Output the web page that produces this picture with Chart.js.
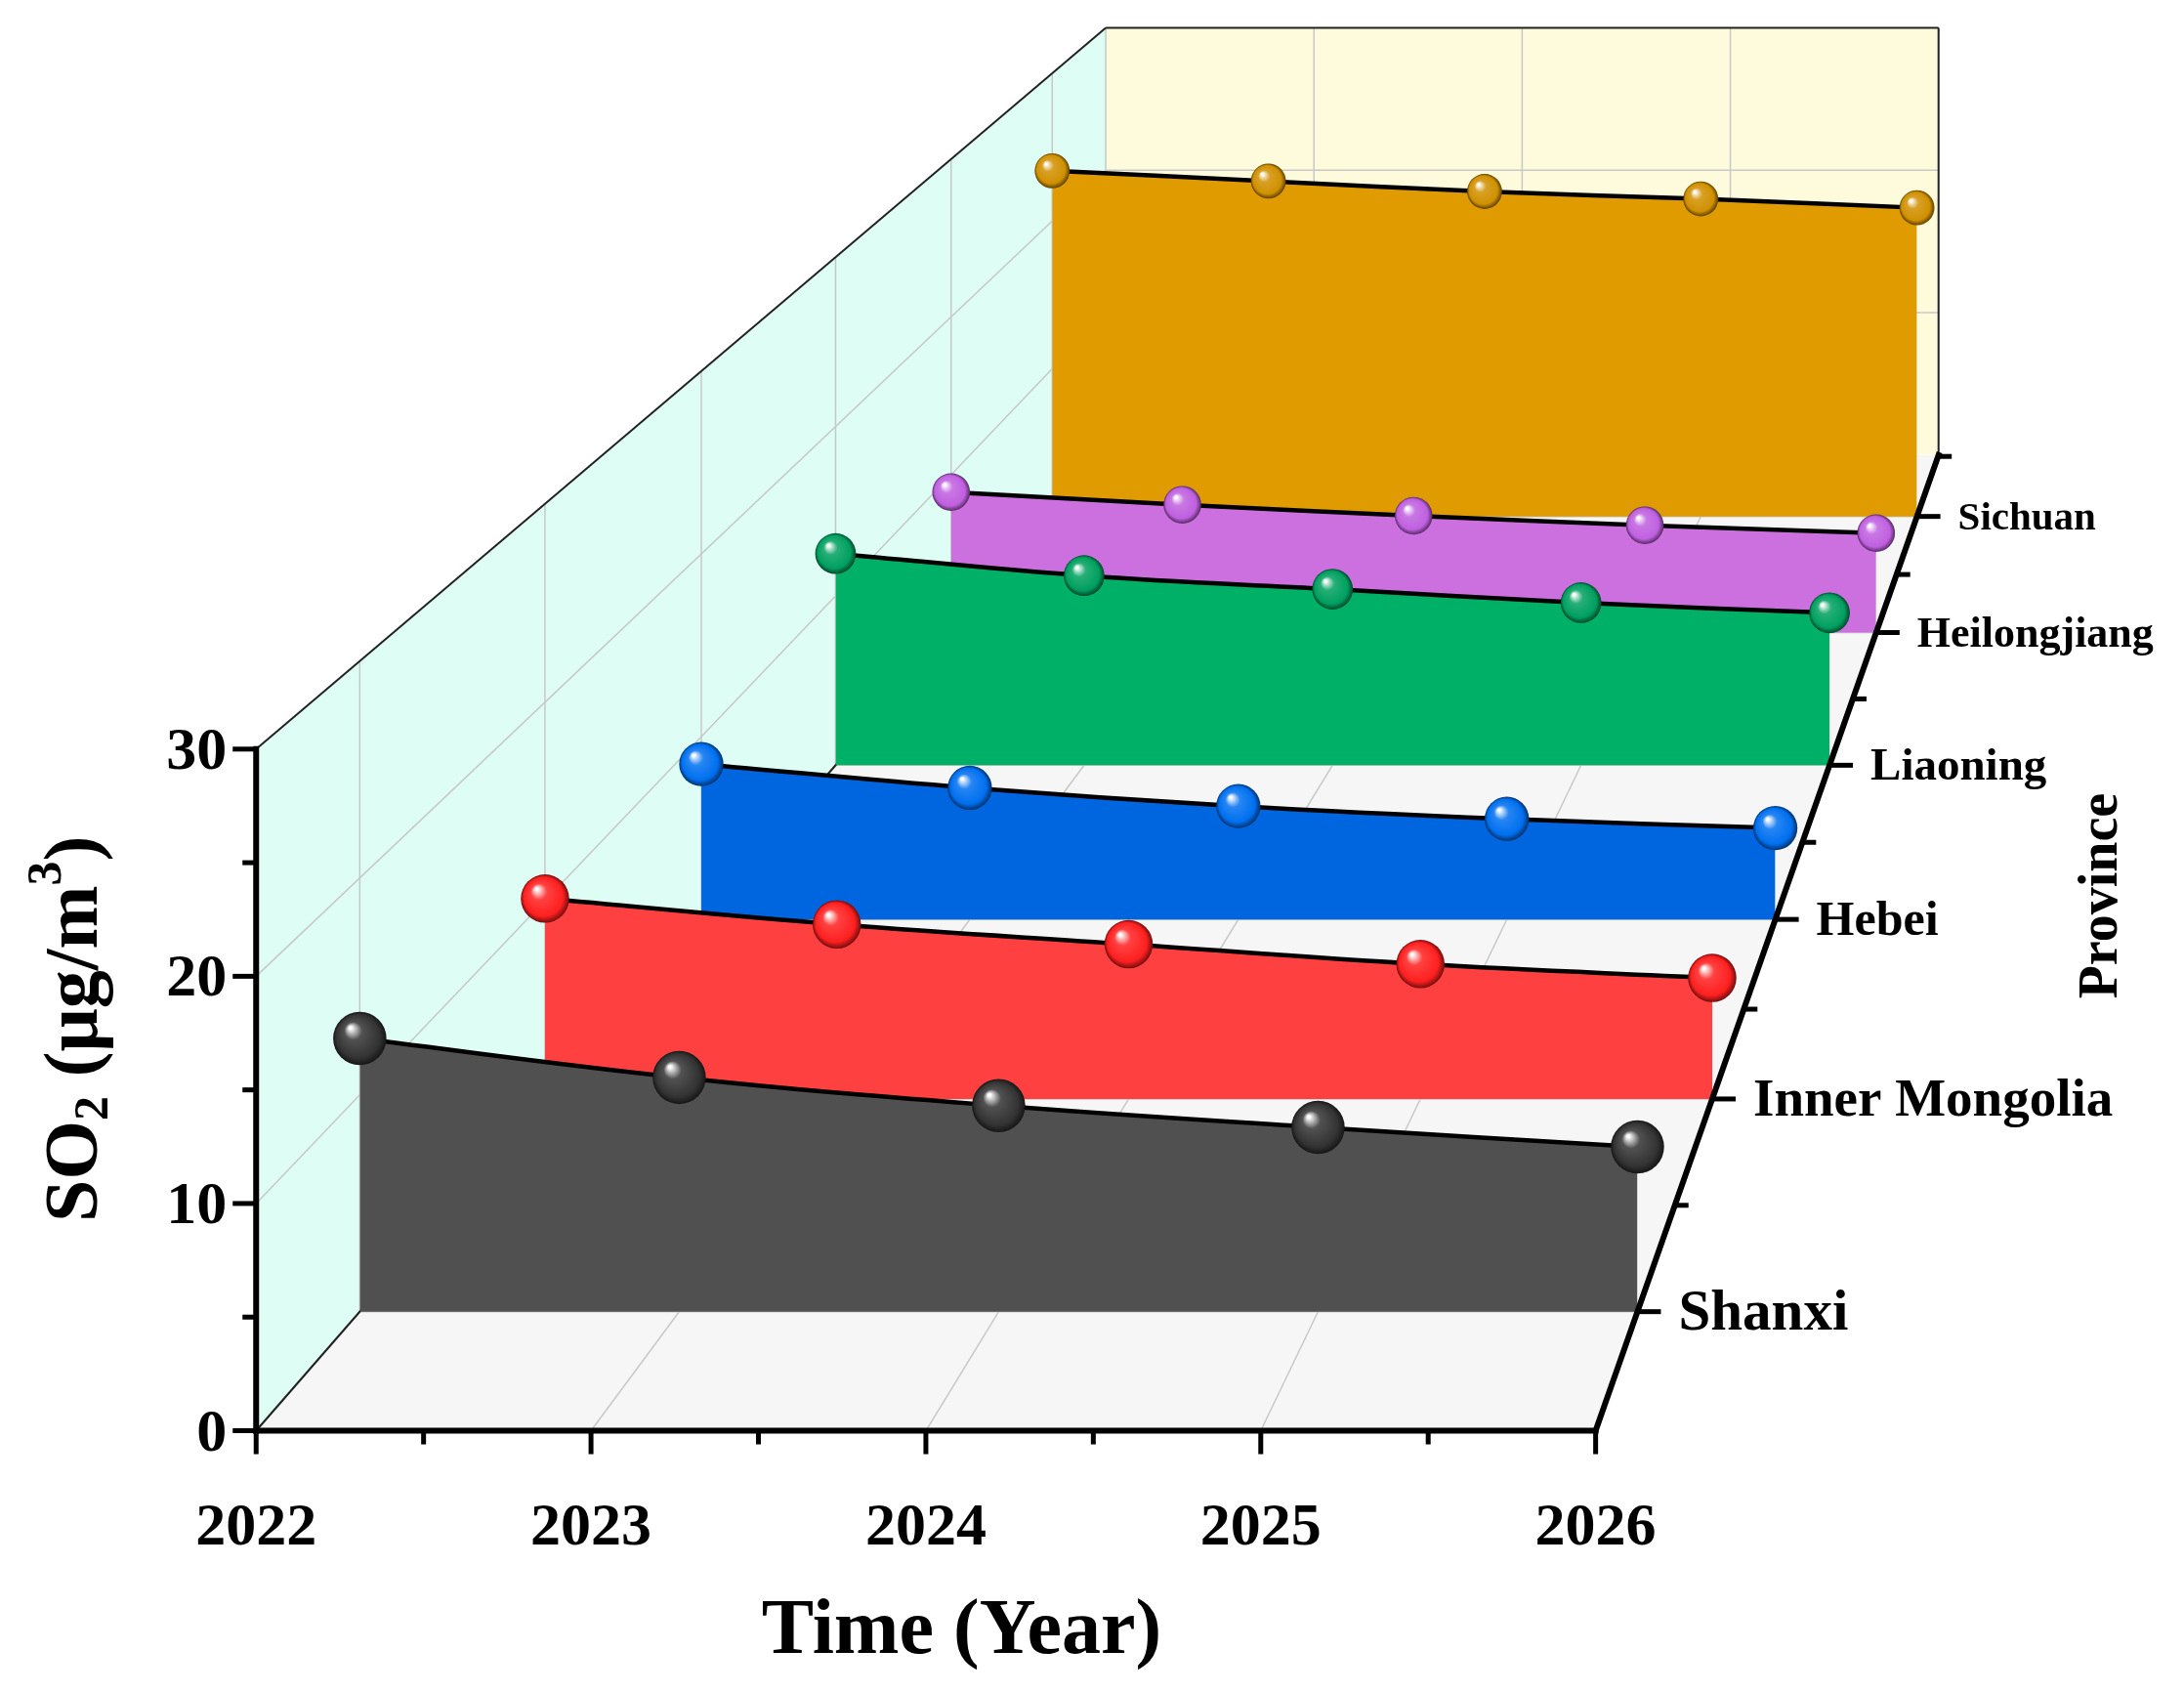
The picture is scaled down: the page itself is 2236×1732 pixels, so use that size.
<!DOCTYPE html>
<html><head><meta charset="utf-8">
<script src="https://cdn.jsdelivr.net/npm/chart.js@4.4.1/dist/chart.umd.min.js"></script>
<style>html,body{margin:0;padding:0;background:#fff}canvas{display:block}</style>
</head><body>
<canvas id="c" width="2236" height="1732" style="width:2236px;height:1732px"></canvas>
<script>
// ---- data ----
const years = [2022, 2023, 2024, 2025, 2026];
const provinces = ["Shanxi", "Inner Mongolia", "Hebei", "Liaoning", "Heilongjiang", "Sichuan"];
const shanxi = [12.6, 10.8, 9.5, 8.5, 7.6];
const innerMongolia = [10.1, 8.8, 7.8, 6.8, 6.1];
const hebei = [8.5, 7.2, 6.2, 5.5, 5.0];
const liaoning = [12.5, 11.2, 10.4, 9.6, 9.0];
const heilongjiang = [8.9, 8.1, 7.4, 6.8, 6.3];
const sichuan = [23.4, 22.7, 22.0, 21.5, 20.9];
const yTicks = [0, 10, 20, 30];
const seriesValues = [shanxi, innerMongolia, hebei, liaoning, heilongjiang, sichuan];
const depthPos = [0.122, 0.34, 0.524, 0.682, 0.818, 0.937];
const fillColors = ["#505050", "#ff4040", "#0066e0", "#00b067", "#cc70e0", "#e09b00"];
const ballColors = ["#333333", "#ff2020", "#0070f0", "#00a060", "#c060e0", "#d09000"];

// ---- projection (3D -> chart data space) ----
const k = 1.433;
function P(t, d, v) {
  const L = 183 + 607 * d, R = 1140 + 245 * d;
  const s = 16.23 - 6.06 * d;
  return { x: k * (L + (R - L) * (t - 2022) / 4), y: k * (1022 - 697 * d - s * v) };
}

const datasets = seriesValues.map((vals, i) => {
  const d = depthPos[i];
  return {
    label: provinces[i],
    data: years.map((t, j) => P(t, d, vals[j])),
    showLine: true, tension: 0.4, borderColor: "#000", borderWidth: 4.5,
    backgroundColor: fillColors[i], pointRadius: 0,
    fill: { value: P(2022, d, 0).y },
    ballR: (20 - 8 * d) * k, ballColor: ballColors[i]
  };
});

function shade(hex, f) {
  const n = parseInt(hex.slice(1), 16);
  let r = n >> 16, g = (n >> 8) & 255, b = n & 255;
  if (f > 0) { r += (255 - r) * f; g += (255 - g) * f; b += (255 - b) * f; }
  else { r *= 1 + f; g *= 1 + f; b *= 1 + f; }
  return `rgb(${r|0},${g|0},${b|0})`;
}

const SERIF = "'Liberation Serif', 'DejaVu Serif', serif";

const deco = {
  id: "deco",
  beforeDatasetsDraw(chart) {
    const c = chart.ctx, X = chart.scales.x, Y = chart.scales.y;
    const q = (t, d, v) => { const p = P(t, d, v); return [X.getPixelForValue(p.x), Y.getPixelForValue(p.y)]; };
    const poly = (pts, fill) => { c.beginPath(); pts.forEach((p, i) => i ? c.lineTo(p[0], p[1]) : c.moveTo(p[0], p[1])); c.closePath(); c.fillStyle = fill; c.fill(); };
    const line = (a, b, col, w) => { c.beginPath(); c.moveTo(a[0], a[1]); c.lineTo(b[0], b[1]); c.strokeStyle = col; c.lineWidth = w; c.stroke(); };
    c.save();
    poly([q(2022,0,0), q(2026,0,0), q(2026,1,0), q(2022,1,0)], "#f6f6f6");
    poly([q(2022,0,0), q(2022,0,30), q(2022,1,30), q(2022,1,0)], "#ddfdf5");
    poly([q(2022,1,0), q(2026,1,0), q(2026,1,30), q(2022,1,30)], "#fdfbdc");
    const g = "#c8c8c8";
    years.forEach(t => { line(q(t,0,0), q(t,1,0), g, 1.5); line(q(t,1,0), q(t,1,30), g, 1.5); });
    [10, 20].forEach(v => { line(q(2022,0,v), q(2022,1,v), g, 1.5); line(q(2022,1,v), q(2026,1,v), g, 1.5); });
    depthPos.forEach(d => { line(q(2022,d,0), q(2022,d,30), g, 1.5); line(q(2022,d,0), q(2026,d,0), g, 1.5); });
    line(q(2022,0,30), q(2022,1,30), "#222", 2);
    line(q(2022,1,30), q(2026,1,30), "#222", 2);
    line(q(2026,1,0), q(2026,1,30), "#222", 2);
    line(q(2022,0,0), q(2022,1,0), "#222", 2);
    c.restore();
  },
  afterDatasetDraw(chart, args) {
    const ds = chart.data.datasets[args.index];
    const c = chart.ctx;
    args.meta.data.forEach(pt => {
      const r = ds.ballR, x = pt.x, y = pt.y;
      const gr = c.createRadialGradient(x - r * 0.35, y - r * 0.4, r * 0.05, x, y, r);
      gr.addColorStop(0, "#ffffff");
      gr.addColorStop(0.3, shade(ds.ballColor, 0.15));
      gr.addColorStop(0.8, ds.ballColor);
      gr.addColorStop(1, shade(ds.ballColor, -0.55));
      c.beginPath(); c.arc(x, y, r, 0, Math.PI * 2); c.fillStyle = gr; c.fill();
    });
  },
  afterDatasetsDraw(chart) {
    const c = chart.ctx, X = chart.scales.x, Y = chart.scales.y;
    const q = (t, d, v) => { const p = P(t, d, v); return [X.getPixelForValue(p.x), Y.getPixelForValue(p.y)]; };
    const line = (a, b, w) => { c.beginPath(); c.moveTo(a[0], a[1]); c.lineTo(b[0], b[1]); c.strokeStyle = "#000"; c.lineWidth = w; c.stroke(); };
    c.save();
    c.lineCap = "square";
    line(q(2022,0,0), q(2026,0,0), 6);
    line(q(2022,0,0), q(2022,0,30), 6);
    line(q(2026,0,0), q(2026,1,0), 6);
    c.lineCap = "butt";
    for (let t = 2022; t <= 2026.01; t += 0.5) {
      const p = q(t,0,0), maj = Math.abs(t - Math.round(t)) < 0.01;
      line(p, [p[0], p[1] + (maj ? 24 : 14)], 5);
    }
    for (let v = 0; v <= 30; v += 5) {
      const p = q(2022,0,v), maj = v % 10 === 0;
      line(p, [p[0] - (maj ? 24 : 14), p[1]], 5);
    }
    const dt = [0, ...depthPos];
    depthPos.forEach((d, i) => {
      const p = q(2026,d,0); line(p, [p[0] + 24, p[1]], 5);
      if (i > 0) { const m = q(2026,(d + dt[i]) / 2,0); line(m, [m[0] + 14, m[1]], 5); }
    });
    const mm = q(2026,(depthPos[5] + 1) / 2 + 0.03,0); line(mm, [mm[0] + 14, mm[1]], 5);
    c.fillStyle = "#000";
    c.font = `bold 62px ${SERIF}`;
    c.textAlign = "center"; c.textBaseline = "middle";
    years.forEach(t => { const p = q(t,0,0); c.fillText(String(t), p[0], p[1] + 100); });
    c.textAlign = "right";
    yTicks.forEach(v => { const p = q(2022,0,v); c.fillText(String(v), p[0] - 30, p[1] + 4); });
    c.textAlign = "left";
    depthPos.forEach((d, i) => {
      const p = q(2026,d,0);
      c.font = `bold ${Math.round(62 - 22 * d)}px ${SERIF}`;
      c.fillText(provinces[i], p[0] + 42, p[1] + 3);
    });
    c.font = `bold 80px ${SERIF}`;
    c.fillText && (c.textAlign = "center");
    c.fillText("Time (Year)", 687 * k, 1166 * k);
    c.save(); c.translate(1502 * k, 640 * k); c.rotate(-Math.PI / 2);
    c.font = `bold 56px ${SERIF}`; c.fillText("Province", 0, 0); c.restore();
    c.save(); c.translate(55 * k, 735 * k); c.rotate(-Math.PI / 2);
    const big = `bold 78px ${SERIF}`, sm = `bold 50px ${SERIF}`;
    const parts = [["SO", big, 0], ["2", sm, 18], [" (μg/m", big, 0], ["3", sm, -30], [")", big, 0]];
    let w = 0; parts.forEach(p => { c.font = p[1]; w += c.measureText(p[0]).width; });
    let x = -w / 2; c.textAlign = "left";
    parts.forEach(p => { c.font = p[1]; c.fillText(p[0], x, p[2]); x += c.measureText(p[0]).width; });
    c.restore();
    c.restore();
  }
};

new Chart(document.getElementById("c"), {
  type: "scatter",
  data: { datasets },
  options: {
    responsive: false, animation: false, devicePixelRatio: 1,
    layout: { padding: 0 },
    plugins: { legend: { display: false }, tooltip: { enabled: false } },
    scales: {
      x: { type: "linear", min: 0, max: 2236, display: false },
      y: { type: "linear", min: 0, max: 1732, reverse: true, display: false }
    }
  },
  plugins: [deco]
});
</script>
</body></html>
